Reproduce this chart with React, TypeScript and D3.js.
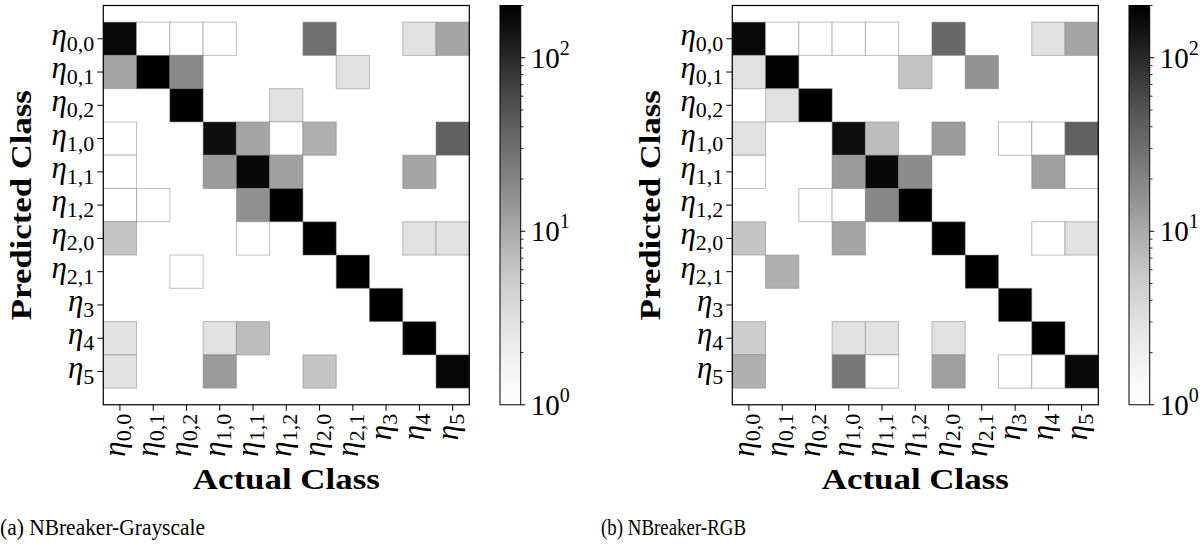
import React from 'react';
import * as d3 from 'd3';

const classLabels = ["0,0", "0,1", "0,2", "1,0", "1,1", "1,2", "2,0", "2,1", "3", "4", "5"];

// rows = predicted class, columns = actual class
const grayscaleCounts = [
  [167, 1, 1, 1, 0, 0, 29, 0, 0, 3, 11],
  [11, 200, 18, 0, 0, 0, 0, 3, 0, 0, 0],
  [0, 0, 200, 0, 0, 3, 0, 0, 0, 0, 0],
  [1, 0, 0, 156, 11, 1, 9, 0, 0, 0, 40],
  [1, 0, 0, 13, 173, 12, 0, 0, 0, 11, 0],
  [1, 1, 0, 0, 16, 200, 0, 0, 0, 0, 0],
  [6, 0, 0, 0, 1, 0, 200, 0, 0, 3, 3],
  [0, 0, 1, 0, 0, 0, 0, 200, 0, 0, 0],
  [0, 0, 0, 0, 0, 0, 0, 0, 200, 0, 0],
  [3, 0, 0, 3, 7, 0, 0, 0, 0, 200, 0],
  [3, 0, 0, 13, 0, 0, 6, 0, 0, 0, 180],
];

const rgbCounts = [
  [167, 1, 1, 1, 1, 0, 34, 0, 0, 3, 11],
  [3, 190, 0, 0, 0, 6, 0, 15, 0, 0, 0],
  [0, 3, 200, 0, 0, 0, 0, 0, 0, 0, 0],
  [3, 0, 0, 156, 7, 0, 13, 0, 1, 1, 40],
  [1, 0, 0, 13, 173, 17, 0, 0, 0, 12, 1],
  [0, 0, 1, 1, 19, 200, 0, 0, 0, 0, 0],
  [6, 0, 0, 11, 0, 0, 200, 0, 0, 1, 3],
  [0, 9, 0, 0, 0, 0, 0, 200, 0, 0, 0],
  [0, 0, 0, 0, 0, 0, 0, 0, 200, 0, 0],
  [5, 0, 0, 3, 3, 0, 3, 0, 0, 200, 0],
  [9, 0, 0, 25, 1, 0, 12, 0, 1, 1, 167],
];

const captions = ["(a) NBreaker-Grayscale", "(b) NBreaker-RGB"];
const colorbarMajor = [1, 10, 100];
const colorbarMinor = [2, 3, 4, 5, 6, 7, 8, 9, 20, 30, 40, 50, 60, 70, 80, 90, 200];
const colorMin = 1;
const colorMax = 200;

const FONT = "'Liberation Serif', 'DejaVu Serif', serif";

function Panel({ counts, x0, caption, captionX, captionLen, gid }: any) {
  const n = classLabels.length;
  const plotW = 366;
  const cell = plotW / n;
  const top = 5.5;
  const plotH = cell * (n + 1);
  const bottom = top + plotH;
  const x = d3.scaleLinear().domain([-0.5, n - 0.5]).range([x0, x0 + plotW]);
  const y = d3.scaleLinear().domain([-1, n]).range([top, bottom]);
  const color = d3.scaleSequentialLog(d3.interpolateGreys).domain([colorMin, colorMax]);

  const cbX = x0 + 396.7;
  const cbW = 20.7;
  const cbY = d3.scaleLog().domain([colorMin, colorMax]).range([bottom, top]);
  const stops = d3.range(0, 1.0001, 0.05);

  const cells: any[] = [];
  counts.forEach((row: number[], r: number) =>
    row.forEach((v: number, c: number) => {
      if (v > 0) cells.push({ r, c, v });
    })
  );

  return (
    <g>
      <defs>
        <linearGradient id={gid} x1="0" y1="1" x2="0" y2="0">
          {stops.map((t) => (
            <stop key={t} offset={t} stopColor={d3.interpolateGreys(t)} />
          ))}
        </linearGradient>
      </defs>
      {cells.map((d) => (
        <rect
          key={`${d.r}-${d.c}`}
          x={x(d.c - 0.5)}
          y={y(d.r - 0.5)}
          width={cell}
          height={y(d.r + 0.5) - y(d.r - 0.5)}
          fill={color(d.v)}
          stroke="#808080"
          strokeOpacity={0.5}
          strokeWidth={1}
        />
      ))}
      <rect x={x0} y={top} width={plotW} height={plotH} fill="none" stroke="#000" strokeWidth={1.2} />
      {classLabels.map((lab, i) => (
        <g key={`y${i}`}>
          <line x1={x0 - 6} x2={x0} y1={y(i)} y2={y(i)} stroke="#000" strokeWidth={1} />
          <text x={x0 - 9} y={y(i) + 6} textAnchor="end" fontFamily={FONT} fontSize={31} fill="#000">
            <tspan fontStyle="italic">η</tspan>
            <tspan fontSize={22} dy={6}>{lab}</tspan>
          </text>
        </g>
      ))}
      {classLabels.map((lab, i) => (
        <g key={`x${i}`}>
          <line x1={x(i)} x2={x(i)} y1={bottom} y2={bottom + 6} stroke="#000" strokeWidth={1} />
          <text
            transform={`translate(${x(i) + 5},${bottom + 9}) rotate(-90)`}
            textAnchor="end"
            fontFamily={FONT}
            fontSize={31}
            fill="#000"
          >
            <tspan fontStyle="italic">η</tspan>
            <tspan fontSize={22} dy={6}>{lab}</tspan>
          </text>
        </g>
      ))}
      <text
        transform={`translate(${x0 - 72},${(top + bottom) / 2}) rotate(-90)`}
        textAnchor="middle"
        fontFamily={FONT}
        fontWeight="bold"
        fontSize={30}
        textLength={230}
        lengthAdjust="spacingAndGlyphs"
        fill="#000"
      >
        Predicted Class
      </text>
      <text
        x={x0 + plotW / 2}
        y={489}
        textAnchor="middle"
        fontFamily={FONT}
        fontWeight="bold"
        fontSize={30}
        textLength={187}
        lengthAdjust="spacingAndGlyphs"
        fill="#000"
      >
        Actual Class
      </text>
      <rect x={cbX} y={top} width={cbW} height={plotH} fill={`url(#${gid})`} stroke="#000" strokeWidth={1} />
      {colorbarMinor.map((v) => (
        <line key={`m${v}`} x1={cbX + cbW} x2={cbX + cbW + 2.8} y1={cbY(v)} y2={cbY(v)} stroke="#000" strokeWidth={0.8} />
      ))}
      {colorbarMajor.map((v) => (
        <g key={`M${v}`}>
          <line x1={cbX + cbW} x2={cbX + cbW + 4.5} y1={cbY(v)} y2={cbY(v)} stroke="#000" strokeWidth={1} />
          <text x={cbX + cbW + 10} y={cbY(v) + 10} fontFamily={FONT} fontSize={29} fill="#000">
            10
            <tspan fontSize={20} dy={-13}>{Math.round(Math.log10(v))}</tspan>
          </text>
        </g>
      ))}
      <text
        x={captionX}
        y={535}
        fontFamily={FONT}
        fontSize={23}
        textLength={captionLen}
        lengthAdjust="spacingAndGlyphs"
        fill="#000"
      >
        {caption}
      </text>
    </g>
  );
}

export default function App() {
  return (
    <svg
      width={1203}
      height={552}
      style={{ position: 'absolute', left: 0, top: 0, background: '#fff' }}
    >
      <rect x={0} y={0} width={1203} height={552} fill="#fff" />
      <Panel counts={grayscaleCounts} x0={103.3} caption={captions[0]} captionX={0} captionLen={205} gid="cbL" />
      <Panel counts={rgbCounts} x0={732.3} caption={captions[1]} captionX={601} captionLen={145} gid="cbR" />
    </svg>
  );
}
